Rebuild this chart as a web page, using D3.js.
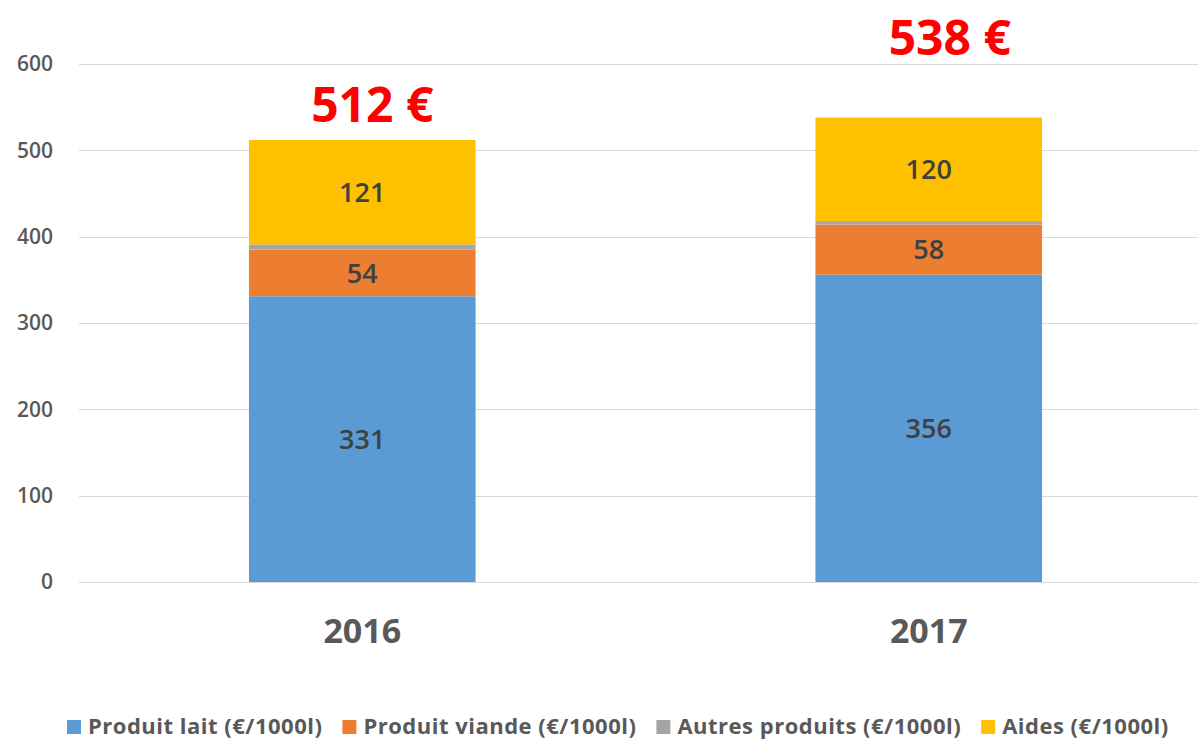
<!DOCTYPE html>
<html>
<head>
<meta charset="utf-8">
<script src="https://cdn.jsdelivr.net/npm/d3@7"></script>
<style>
  html, body { margin: 0; padding: 0; background: #fff; }
  svg { display: block; font-family: "Open Sans", "Noto Sans", sans-serif; }
</style>
</head>
<body>
<svg id="chart" width="1198" height="740"></svg>
<script>
// data
const years = ["2016", "2017"];
const seriesNames = ["Produit lait (€/1000l)", "Produit viande (€/1000l)", "Autres produits (€/1000l)", "Aides (€/1000l)"];
const lait = [331, 356];
const viande = [54, 58];
const autres = [6, 4];
const aides = [121, 120];
const totals = ["512 €", "538 €"];
const yTicks = [0, 100, 200, 300, 400, 500, 600];

const colors = ["#5B9BD5", "#ED7D31", "#A5A5A5", "#FFC000"];
// hand placed total labels (offset from bar top centre)
const totalOffsets = [[10, -18], [21, -63]];

const width = 1198, height = 740;
const svg = d3.select("#chart");

const x = d3.scaleBand().domain(years).range([79, 1212]).paddingInner(0.6).paddingOuter(0.3);
const y = d3.scaleLinear().domain([0, 600]).range([582, 64]);

// stack rows
const rows = years.map((yr, i) => ({year: yr, s0: lait[i], s1: viande[i], s2: autres[i], s3: aides[i]}));
const stack = d3.stack().keys(["s0", "s1", "s2", "s3"]);
const layers = stack(rows);

// gridlines
svg.append("g").selectAll("line").data(yTicks).join("line")
  .attr("x1", 79).attr("x2", width)
  .attr("y1", d => Math.round(y(d)) + 0.5).attr("y2", d => Math.round(y(d)) + 0.5)
  .attr("stroke", "#D9D9D9").attr("stroke-width", 1);

// y axis labels
const yAxis = d3.axisLeft(y).tickValues(yTicks).tickSize(0).tickPadding(0);
svg.append("g").attr("transform", "translate(53,0)").call(yAxis)
  .call(g => g.select(".domain").remove())
  .call(g => g.selectAll("text")
    .attr("fill", "#595959").style("font-size", "21px").style("font-weight", 600)
    .style("font-family", "'Open Sans', sans-serif"));

// bars
svg.append("g").selectAll("g").data(layers).join("g")
  .attr("fill", (d, i) => colors[i])
  .selectAll("rect").data(d => d).join("rect")
  .attr("x", d => x(d.data.year))
  .attr("width", x.bandwidth())
  .attr("y", d => y(d[1]))
  .attr("height", d => y(d[0]) - y(d[1]));

// segment labels (not for "autres")
const labelled = [0, 1, 3];
labelled.forEach(k => {
  svg.append("g").selectAll("text").data(layers[k]).join("text")
    .attr("x", d => x(d.data.year) + x.bandwidth() / 2)
    .attr("y", d => (y(d[0]) + y(d[1])) / 2)
    .attr("dy", "0.36em")
    .attr("text-anchor", "middle")
    .attr("fill", "#404040")
    .style("font-size", "27px").style("font-weight", 600)
    .text(d => d[1] - d[0]);
});

// totals
svg.append("g").selectAll("text").data(years).join("text")
  .attr("x", (d, i) => x(d) + x.bandwidth() / 2 + totalOffsets[i][0])
  .attr("y", (d, i) => y(d3.sum(layers, l => l[i][1] - l[i][0])) + totalOffsets[i][1])
  .attr("text-anchor", "middle")
  .attr("fill", "#FF0000")
  .style("font-size", "48px").style("font-weight", 700)
  .text((d, i) => totals[i]);

// x axis labels
const xAxis = d3.axisBottom(x).tickSize(0).tickPadding(0);
svg.append("g").attr("transform", "translate(0,643)").call(xAxis)
  .call(g => g.select(".domain").remove())
  .call(g => g.selectAll("text")
    .attr("dy", 0)
    .attr("fill", "#595959").style("font-size", "34px").style("font-weight", 700)
    .style("font-family", "'Open Sans', sans-serif"));

// legend
const legend = svg.append("g");
let lx = 67;
seriesNames.forEach((name, i) => {
  legend.append("rect").attr("x", lx).attr("y", 720).attr("width", 14).attr("height", 14)
    .attr("fill", colors[i]);
  const t = legend.append("text").attr("x", lx + 21).attr("y", 734)
    .attr("fill", "#595959").style("font-size", "22px").style("font-weight", 700)
    .style("letter-spacing", "0.5px")
    .text(name);
  lx += 21 + t.node().getComputedTextLength() + 20;
});
</script>
</body>
</html>
